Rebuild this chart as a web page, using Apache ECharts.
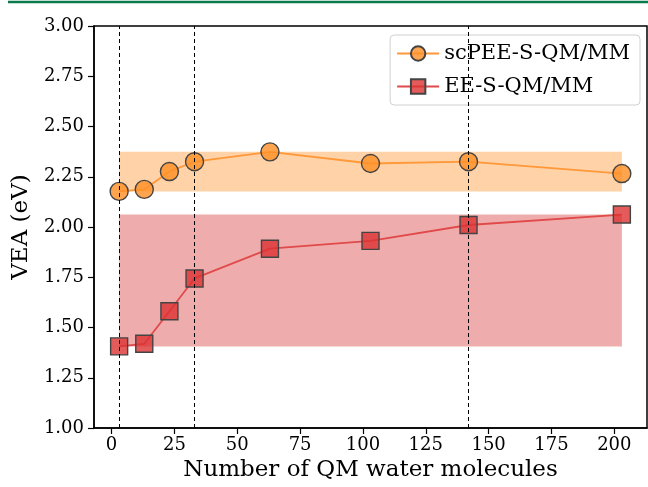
<!DOCTYPE html>
<html>
<head>
<meta charset="utf-8">
<script src="https://cdn.jsdelivr.net/npm/echarts@6/dist/echarts.min.js"></script>
<style>
  html, body { margin: 0; padding: 0; background: #fff; }
  #chart { width: 648px; height: 487px; }
</style>
</head>
<body>
<div id="chart"></div>
<script>
// number of QM water molecules
var nWater = [3, 13, 23, 33, 63, 103, 142, 203];
var scPEE = [2.177, 2.187, 2.276, 2.325, 2.374, 2.316, 2.325, 2.266];
var eeS = [1.406, 1.419, 1.581, 1.744, 1.892, 1.931, 2.010, 2.062];
var cutoffs = [3, 33, 142];
var xTicks = [0, 25, 50, 75, 100, 125, 150, 175, 200];

var serif = 'DejaVu Serif';

function pairs(ys) {
  return nWater.map(function (x, i) { return [x, ys[i]]; });
}
function band(ys, color) {
  return {
    silent: true,
    itemStyle: { color: color },
    data: [[
      { coord: [nWater[0], Math.min.apply(null, ys)] },
      { coord: [nWater[nWater.length - 1], Math.max.apply(null, ys)] }
    ]]
  };
}

var myChart = echarts.init(document.getElementById('chart'));
myChart.setOption({
  animation: false,
  graphic: [{
    type: 'line',
    shape: { x1: 8, y1: 2, x2: 648, y2: 2 },
    style: { stroke: '#0b7a4b', lineWidth: 2.5 }
  }],
  grid: {
    left: 94, right: 1, top: 26, bottom: 52,
    show: true, borderColor: '#000', borderWidth: 1.5
  },
  legend: {
    orient: 'vertical',
    right: 8, top: 35,
    padding: [8, 10, 8, 6],
    itemGap: 12,
    itemWidth: 42, itemHeight: 18,
    borderColor: '#d0d0d0', borderWidth: 1, borderRadius: 4,
    backgroundColor: 'rgba(255,255,255,0.8)',
    textStyle: { fontFamily: serif, fontSize: 21, color: '#000' },
    data: ['scPEE-S-QM/MM', 'EE-S-QM/MM']
  },
  xAxis: {
    type: 'value',
    min: -7, max: 213,
    name: 'Number of QM water molecules',
    nameLocation: 'middle',
    nameGap: 31,
    nameTextStyle: { fontFamily: serif, fontSize: 23, color: '#000' },
    splitLine: { show: false },
    axisLine: { show: true, onZero: false, lineStyle: { color: '#000', width: 1.5 } },
    axisTick: { show: true, customValues: xTicks, length: 6, lineStyle: { color: '#000', width: 1.2 } },
    axisLabel: { customValues: xTicks, fontFamily: serif, fontSize: 18, color: '#000', margin: 8 }
  },
  yAxis: {
    type: 'value',
    min: 1, max: 3, interval: 0.25,
    name: 'VEA (eV)',
    nameLocation: 'middle',
    nameGap: 60,
    nameTextStyle: { fontFamily: serif, fontSize: 23, color: '#000' },
    splitLine: { show: false },
    axisLine: { show: true, onZero: false, lineStyle: { color: '#000', width: 1.5 } },
    axisTick: { show: true, length: 6, lineStyle: { color: '#000', width: 1.2 } },
    axisLabel: {
      fontFamily: serif, fontSize: 18, color: '#000', margin: 10,
      formatter: function (v) { return v.toFixed(2); }
    }
  },
  series: [
    {
      name: 'cutoffs',
      type: 'line',
      data: [],
      silent: true,
      markLine: {
        silent: true,
        symbol: 'none',
        label: { show: false },
        lineStyle: { color: '#000', type: [4, 3], width: 1 },
        data: cutoffs.map(function (c) { return { xAxis: c }; })
      }
    },
    {
      name: 'scPEE-S-QM/MM',
      type: 'line',
      data: pairs(scPEE),
      symbol: 'circle',
      symbolSize: 18,
      lineStyle: { color: '#ff9838', width: 1.8 },
      itemStyle: { color: 'rgba(255,145,40,0.82)', borderColor: '#444', borderWidth: 1.4 },
      markArea: band(scPEE, 'rgba(255,155,60,0.45)'),
      z: 3
    },
    {
      name: 'EE-S-QM/MM',
      type: 'line',
      data: pairs(eeS),
      symbol: 'rect',
      symbolSize: 17,
      lineStyle: { color: '#e04a4a', width: 1.8 },
      itemStyle: { color: 'rgba(220,50,50,0.8)', borderColor: '#444', borderWidth: 1.4 },
      markArea: band(eeS, 'rgba(220,70,70,0.45)'),
      z: 3
    }
  ]
});
</script>
</body>
</html>
